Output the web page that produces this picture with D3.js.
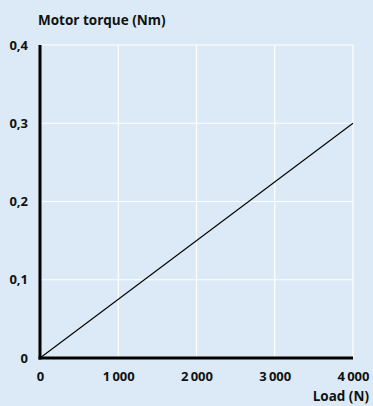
<!DOCTYPE html>
<html><head><meta charset="utf-8">
<script src="https://cdn.jsdelivr.net/npm/d3@7"></script>
<style>
html,body{margin:0;padding:0;background:#dbeaf6;}
svg{display:block;}
text{font-family:"Open Sans",Lato,sans-serif;font-weight:700;fill:#111;}
</style></head>
<body><svg id="c" width="373" height="406"></svg>
<script>
const loadValues = [0, 4000];
const torqueValues = [0, 0.3];
const xTicks = [0, 1000, 2000, 3000, 4000];
const yTicks = [0, 0.1, 0.2, 0.3, 0.4];
const xTitle = "Load (N)";
const yTitle = "Motor torque (Nm)";

const svg = d3.select("#c");
const W = 373, H = 406;
svg.append("rect").attr("width", W).attr("height", H).attr("fill", "#dbeaf6");
const m = {l: 40, r: 353, t: 45, b: 358};
const x = d3.scaleLinear().domain([0, 4000]).range([m.l, m.r]);
const y = d3.scaleLinear().domain([0, 0.4]).range([m.b, m.t]);

const fmtX = d => d === 0 ? "0" : d3.format(",")(d).replace(/,/g, "\u2009");
const fmtY = d => d === 0 ? "0" : d.toFixed(1).replace(".", ",");

// grid
svg.append("g").selectAll("line").data(yTicks.filter(d => d > 0)).join("line")
  .attr("x1", m.l).attr("x2", m.r).attr("y1", d => y(d)).attr("y2", d => y(d))
  .attr("stroke", "#fff").attr("stroke-width", 1.2);
svg.append("g").selectAll("line").data(xTicks.filter(d => d > 0)).join("line")
  .attr("x1", d => x(d)).attr("x2", d => x(d)).attr("y1", m.t).attr("y2", m.b)
  .attr("stroke", "#fff").attr("stroke-width", 1.2);

// axes
const xAxis = d3.axisBottom(x).tickValues(xTicks).tickFormat(fmtX).tickSize(0).tickPadding(14);
const gx = svg.append("g").attr("transform", `translate(0,${m.b})`).call(xAxis);
gx.select(".domain").remove();
gx.selectAll("text").attr("font-size", 13).style("font-family", '"Open Sans",sans-serif').style("font-weight", 700);

const yAxis = d3.axisLeft(y).tickValues(yTicks).tickFormat(fmtY).tickSize(0).tickPadding(12);
const gy = svg.append("g").attr("transform", `translate(${m.l},0)`).call(yAxis);
gy.select(".domain").remove();
gy.selectAll("text").attr("font-size", 13).style("font-family", '"Open Sans",sans-serif').style("font-weight", 700);

// data line
svg.append("path").datum(loadValues.map((v, i) => [v, torqueValues[i]]))
  .attr("d", d3.line().x(d => x(d[0])).y(d => y(d[1])))
  .attr("fill", "none").attr("stroke", "#000").attr("stroke-width", 1.1);

// axis lines
svg.append("line").attr("x1", m.l).attr("x2", m.l).attr("y1", m.t).attr("y2", m.b + 1.5)
  .attr("stroke", "#000").attr("stroke-width", 3);
svg.append("line").attr("x1", m.l - 1.5).attr("x2", m.r).attr("y1", m.b).attr("y2", m.b)
  .attr("stroke", "#000").attr("stroke-width", 3);

// titles
svg.append("text").attr("x", 38).attr("y", 25).attr("font-size", 13.5).text(yTitle);
svg.append("text").attr("x", 369).attr("y", 401).attr("text-anchor", "end").attr("font-size", 13.5).text(xTitle);
</script></body></html>
